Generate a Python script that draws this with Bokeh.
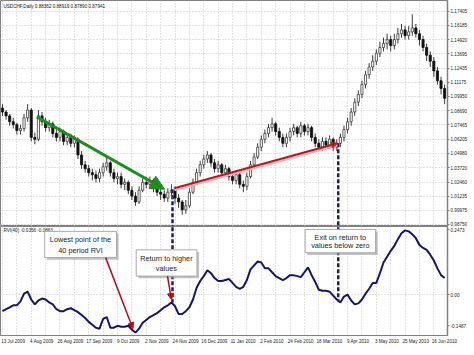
import numpy as np
import pandas as pd
from bokeh.plotting import figure
from bokeh.layouts import column
from bokeh.models import (Range1d, FixedTicker, CustomJSTickFormatter, NumeralTickFormatter,
                          Arrow, NormalHead)
from bokeh.core.properties import value
from bokeh.embed import file_html
from bokeh.resources import INLINE

# ---------------- data (2-day bars, USDCHF daily, Jul 2009 - Jun 2010) ----------------
open_ = [1.0893, 1.0859, 1.0825, 1.0774, 1.0748, 1.0697, 1.0714, 1.0808, 1.0876, 1.0637,
         1.0620, 1.0825, 1.0774, 1.0722, 1.0756, 1.0671, 1.0637, 1.0688, 1.0602, 1.0637,
         1.0585, 1.0620, 1.0483, 1.0397, 1.0363, 1.0328, 1.0311, 1.0277, 1.0328, 1.0380,
         1.0414, 1.0328, 1.0277, 1.0294, 1.0226, 1.0243, 1.0174, 1.0123, 1.0072, 1.0174,
         1.0243, 1.0226, 1.0260, 1.0191, 1.0157, 1.0140, 1.0106, 1.0157, 1.0174, 1.0106,
         1.0072, 1.0003, 1.0038, 1.0157, 1.0243, 1.0328, 1.0397, 1.0448, 1.0483, 1.0414,
         1.0363, 1.0397, 1.0328, 1.0363, 1.0294, 1.0260, 1.0311, 1.0226, 1.0209, 1.0294,
         1.0397, 1.0465, 1.0551, 1.0620, 1.0671, 1.0722, 1.0756, 1.0688, 1.0637, 1.0585,
         1.0637, 1.0688, 1.0722, 1.0671, 1.0739, 1.0688, 1.0722, 1.0637, 1.0585, 1.0551,
         1.0602, 1.0568, 1.0620, 1.0551, 1.0585, 1.0637, 1.0705, 1.0774, 1.0859, 1.0945,
         1.1013, 1.1099, 1.1185, 1.1253, 1.1304, 1.1373, 1.1424, 1.1458, 1.1493, 1.1441,
         1.1493, 1.1544, 1.1578, 1.1527, 1.1561, 1.1595, 1.1544, 1.1493, 1.1424, 1.1356,
         1.1304, 1.1219, 1.1133, 1.1065]
high = [1.0928, 1.0876, 1.0842, 1.0808, 1.0765, 1.0748, 1.0842, 1.0928, 1.0893, 1.0679,
        1.0876, 1.0859, 1.0808, 1.0791, 1.0774, 1.0705, 1.0722, 1.0705, 1.0671, 1.0671,
        1.0654, 1.0637, 1.0517, 1.0431, 1.0397, 1.0363, 1.0346, 1.0363, 1.0414, 1.0465,
        1.0431, 1.0363, 1.0328, 1.0328, 1.0277, 1.0260, 1.0209, 1.0157, 1.0209, 1.0277,
        1.0294, 1.0294, 1.0277, 1.0226, 1.0191, 1.0174, 1.0191, 1.0226, 1.0209, 1.0140,
        1.0089, 1.0089, 1.0191, 1.0277, 1.0363, 1.0431, 1.0483, 1.0517, 1.0500, 1.0448,
        1.0431, 1.0414, 1.0397, 1.0380, 1.0328, 1.0346, 1.0328, 1.0260, 1.0328, 1.0431,
        1.0500, 1.0585, 1.0654, 1.0705, 1.0756, 1.0808, 1.0774, 1.0722, 1.0671, 1.0671,
        1.0722, 1.0756, 1.0739, 1.0774, 1.0756, 1.0756, 1.0739, 1.0671, 1.0620, 1.0637,
        1.0637, 1.0654, 1.0637, 1.0620, 1.0671, 1.0739, 1.0808, 1.0893, 1.0979, 1.1048,
        1.1133, 1.1219, 1.1287, 1.1356, 1.1407, 1.1475, 1.1510, 1.1544, 1.1527, 1.1544,
        1.1595, 1.1630, 1.1612, 1.1612, 1.1715, 1.1630, 1.1578, 1.1527, 1.1458, 1.1390,
        1.1339, 1.1253, 1.1167, 1.1099]
low = [1.0825, 1.0791, 1.0739, 1.0714, 1.0662, 1.0662, 1.0688, 1.0774, 1.0602, 1.0577,
       1.0602, 1.0739, 1.0688, 1.0688, 1.0637, 1.0602, 1.0602, 1.0568, 1.0568, 1.0551,
       1.0551, 1.0448, 1.0363, 1.0328, 1.0294, 1.0260, 1.0243, 1.0243, 1.0294, 1.0346,
       1.0294, 1.0243, 1.0226, 1.0191, 1.0174, 1.0140, 1.0089, 1.0038, 1.0055, 1.0157,
       1.0191, 1.0191, 1.0157, 1.0123, 1.0089, 1.0072, 1.0072, 1.0123, 1.0055, 1.0020,
       0.9960, 0.9969, 1.0020, 1.0140, 1.0226, 1.0294, 1.0363, 1.0414, 1.0380, 1.0328,
       1.0328, 1.0294, 1.0294, 1.0260, 1.0226, 1.0226, 1.0191, 1.0157, 1.0174, 1.0277,
       1.0380, 1.0448, 1.0517, 1.0585, 1.0637, 1.0688, 1.0654, 1.0602, 1.0551, 1.0551,
       1.0602, 1.0654, 1.0637, 1.0637, 1.0654, 1.0654, 1.0602, 1.0551, 1.0517, 1.0517,
       1.0534, 1.0534, 1.0517, 1.0517, 1.0551, 1.0602, 1.0671, 1.0739, 1.0825, 1.0910,
       1.0979, 1.1065, 1.1150, 1.1219, 1.1270, 1.1339, 1.1390, 1.1407, 1.1390, 1.1407,
       1.1458, 1.1510, 1.1493, 1.1493, 1.1527, 1.1510, 1.1441, 1.1390, 1.1304, 1.1253,
       1.1167, 1.1099, 1.1013, 1.0928]
close = [1.0859, 1.0825, 1.0774, 1.0748, 1.0697, 1.0714, 1.0808, 1.0876, 1.0637, 1.0620,
         1.0825, 1.0774, 1.0722, 1.0756, 1.0671, 1.0637, 1.0688, 1.0602, 1.0637, 1.0585,
         1.0620, 1.0483, 1.0397, 1.0363, 1.0328, 1.0311, 1.0277, 1.0328, 1.0380, 1.0414,
         1.0328, 1.0277, 1.0294, 1.0226, 1.0243, 1.0174, 1.0123, 1.0072, 1.0174, 1.0243,
         1.0226, 1.0260, 1.0191, 1.0157, 1.0140, 1.0106, 1.0157, 1.0174, 1.0106, 1.0072,
         1.0003, 1.0038, 1.0157, 1.0243, 1.0328, 1.0397, 1.0448, 1.0483, 1.0414, 1.0363,
         1.0397, 1.0328, 1.0363, 1.0294, 1.0260, 1.0311, 1.0226, 1.0209, 1.0294, 1.0397,
         1.0465, 1.0551, 1.0620, 1.0671, 1.0722, 1.0756, 1.0688, 1.0637, 1.0585, 1.0637,
         1.0688, 1.0722, 1.0671, 1.0739, 1.0688, 1.0722, 1.0637, 1.0585, 1.0551, 1.0602,
         1.0568, 1.0620, 1.0551, 1.0585, 1.0637, 1.0705, 1.0774, 1.0859, 1.0945, 1.1013,
         1.1099, 1.1185, 1.1253, 1.1304, 1.1373, 1.1424, 1.1458, 1.1493, 1.1441, 1.1493,
         1.1544, 1.1578, 1.1527, 1.1561, 1.1595, 1.1544, 1.1493, 1.1424, 1.1356, 1.1304,
         1.1219, 1.1133, 1.1065, 1.0979]
rvi = [-0.0596, -0.0525, -0.0453, -0.0382, -0.0382, -0.0239, 0.0046, 0.0118, -0.0168, -0.0346,
       -0.0203, -0.0132, -0.0168, -0.0275, -0.0346, -0.0525, -0.0596, -0.0596, -0.0525, -0.0489,
       -0.0560, -0.0632, -0.0739, -0.0846, -0.0989, -0.1095, -0.1202, -0.1238, -0.0881, -0.0810,
       -0.1202, -0.1202, -0.1131, -0.1167, -0.1167, -0.1131, -0.1274, -0.1381, -0.1238, -0.1024,
       -0.0917, -0.0810, -0.0739, -0.0667, -0.0560, -0.0453, -0.0382, -0.0275, -0.0417, -0.0703,
       -0.0703, -0.0596, -0.0453, -0.0168, 0.0260, 0.0510, 0.0689, 0.0903, 0.0796, 0.0617,
       0.0510, 0.0510, 0.0546, 0.0582, 0.0439, 0.0296, 0.0225, 0.0296, 0.0546, 0.0938,
       0.1081, 0.1224, 0.1188, 0.0974, 0.0974, 0.0831, 0.0689, 0.0617, 0.0546, 0.0617,
       0.0725, 0.0725, 0.0689, 0.0653, 0.0831, 0.1010, 0.0725, 0.0475, 0.0189, 0.0153,
       0.0153, 0.0118, -0.0025, -0.0168, -0.0275, -0.0061, 0.0011, -0.0203, -0.0346, -0.0310,
       -0.0168, 0.0046, 0.0225, 0.0439, 0.0439, 0.0796, 0.1188, 0.1402, 0.1616, 0.1795,
       0.2044, 0.2259, 0.2366, 0.2330, 0.2223, 0.2080, 0.1830, 0.1723, 0.1652, 0.1474,
       0.1260, 0.0974, 0.0725, 0.0617]
date_labels = ["13 Jul 2009", "4 Aug 2009", "26 Aug 2009", "17 Sep 2009", "9 Oct 2009",
               "2 Nov 2009", "24 Nov 2009", "16 Dec 2009", "11 Jan 2010", "2 Feb 2010",
               "24 Feb 2010", "18 Mar 2010", "9 Apr 2010", "3 May 2010", "25 May 2010",
               "16 Jun 2010"]
price_ticks = [1.17405, 1.16185, 1.14920, 1.13695, 1.12435, 1.11175, 1.09950, 1.08690,
               1.07465, 1.06205, 1.04980, 1.03720, 1.02460, 1.01235, 0.99975, 0.98750]
header_text = "USDCHF,Daily  0.88362 0.88919 0.87890 0.87941"
rvi_text = "RVI(40) -0.0356 -0.0863"
notes = ["Lowest point of the", "40 period RVI", "Return to higher", "values",
         "Exit on return to", "values below zero"]

# ---------------- figures ----------------
FONT = value("Liberation Sans")
GRID = "#c4c4c4"
AXC = "#808080"

xr = Range1d(-0.55, 123.8)
p1 = figure(frame_width=447, frame_height=226, x_range=xr, y_range=Range1d(0.9857, 1.1835),
            y_axis_location="right", x_axis_location=None, toolbar_location=None,
            output_backend="svg", min_border=0, min_border_top=0, min_border_left=0,
            background_fill_color="white", border_fill_color="white")
p2 = figure(frame_width=447, frame_height=109, x_range=xr, y_range=Range1d(-0.1488, 0.2508),
            y_axis_location="right", toolbar_location=None, output_backend="svg",
            min_border=0, min_border_left=0, min_border_bottom=1,
            background_fill_color="white", border_fill_color="white")

for p in (p1, p2):
    p.outline_line_color = AXC
    p.outline_line_width = 1
    for ax in p.yaxis:
        ax.axis_line_color = AXC
        ax.axis_line_width = 1.5
        ax.major_tick_in = 0
        ax.major_tick_out = 2
        ax.major_tick_line_color = AXC
        ax.minor_tick_line_color = None
        ax.major_label_text_font = "Liberation Sans"
        ax.major_label_text_font_size = "4.6px"
        ax.major_label_text_color = "#222222"
        ax.major_label_standoff = 1
    p.xgrid.ticker = FixedTicker(ticks=list(range(0, 124, 4)))
    for g in (p.xgrid, p.ygrid):
        g.grid_line_color = GRID
        g.grid_line_dash = "1 2"
        g.grid_line_width = 1

p1.yaxis.ticker = FixedTicker(ticks=price_ticks)
p1.yaxis.formatter = NumeralTickFormatter(format="0.00000")
p1.ygrid.ticker = FixedTicker(ticks=price_ticks)

p2.yaxis.ticker = FixedTicker(ticks=[0.2383, 0.0, -0.1131])
p2.yaxis.formatter = CustomJSTickFormatter(
    code="if (tick > 0.1) return '0.2473'; if (tick < -0.05) return '-0.1487'; return '0.00';")
p2.ygrid.ticker = FixedTicker(ticks=[0.0])

xa = p2.xaxis[0]
xa.ticker = FixedTicker(ticks=[8 * k + 2.95 for k in range(len(date_labels))])
xa.formatter = CustomJSTickFormatter(args=dict(labels=date_labels),
                                     code="return labels[Math.round((tick - 2.95) / 8)] || '';")
xa.major_tick_out = 0
xa.major_tick_in = 0
xa.minor_tick_line_color = None
xa.axis_line_color = AXC
xa.major_label_text_font = "Liberation Sans"
xa.major_label_text_font_size = "4.6px"
xa.major_label_text_color = "#222222"
xa.major_label_standoff = 3

# ---------------- candles ----------------
df = pd.DataFrame(dict(x=np.arange(len(close)), o=open_, h=high, l=low, c=close))
df["top"] = df[["o", "c"]].max(axis=1)
df["bot"] = df[["o", "c"]].min(axis=1)
up = df[df.c >= df.o]
dn = df[df.c < df.o]
p1.segment(x0="x", y0="l", x1="x", y1="h", source=df, line_color="#3a3a3a", line_width=1)
p1.vbar(x="x", width=0.6, top="top", bottom="bot", source=up, fill_color="white",
        line_color="#3a3a3a", line_width=0.8)
p1.vbar(x="x", width=0.6, top="top", bottom="bot", source=dn, fill_color="#111111",
        line_color="#111111", line_width=0.8)

p1.text(x=[0.27], y=[1.1784], text=[header_text], text_font=FONT, text_font_size=value("4.6px"),
        text_baseline="middle", text_align="left", text_color="#111111")

# annotations on price pane
NAVY = "#1c1c6a"
p1.segment(x0=[47.3, 93.4], y0=[1.0183, 1.0585], x1=[47.3, 93.4], y1=[0.98, 0.98],
           line_color=NAVY, line_width=2.5, line_dash="4 2")
p1.segment(x0=[47.8], y0=[1.0174], x1=[93.2], y1=[1.0568], line_color="#d8b8b8", line_width=2)
p1.add_layout(Arrow(end=NormalHead(size=6, fill_color="#c0141c", line_color="#c0141c"),
                    x_start=47.8, y_start=1.0191, x_end=93.2, y_end=1.0585,
                    line_color="#c0141c", line_width=2))
p1.add_layout(Arrow(end=NormalHead(size=14, fill_color="#1f8c1f", line_color="#1f8c1f"),
                    x_start=9.56, y_start=1.0816, x_end=45.1, y_end=1.0183,
                    line_color="#1f8c1f", line_width=3))

# ---------------- RVI pane ----------------
p2.segment(x0=[47.3, 93.4], y0=[0.27, 0.27], x1=[47.3, 93.4], y1=[-0.0275, -0.0239],
           line_color=NAVY, line_width=2.5, line_dash="4 2")
p2.line(x=np.arange(len(rvi)), y=rvi, line_color="#14146e", line_width=2)
p2.text(x=[0.27], y=[0.2366], text=[rvi_text], text_font=FONT, text_font_size=value("4.6px"),
        text_baseline="middle", text_align="left", text_color="#111111")

box_l = [11.75, 37.2, 84.2]
box_r = [31.7, 54.1, 103.8]
box_t = [0.2330, 0.1652, 0.2401]
box_b = [0.1367, 0.0689, 0.1545]
p2.quad(left=[v + 0.6 for v in box_l], right=[v + 0.6 for v in box_r],
        top=[v - 0.008 for v in box_t], bottom=[v - 0.008 for v in box_b],
        fill_color="#9a9a9a", fill_alpha=0.6, line_color=None)
p2.quad(left=box_l, right=box_r, top=box_t, bottom=box_b, fill_color="white",
        line_color="#a8a8a8", line_width=1)
p2.text(x=[21.7, 21.7, 45.6, 45.6, 94.0, 94.0],
        y=[0.2027, 0.1634, 0.1331, 0.0974, 0.2116, 0.1795],
        text=notes, text_font=FONT, text_font_size=value("7.3px"), text_align="center",
        text_baseline="middle", text_color="#222222")

RED = "#b01018"
p2.add_layout(Arrow(end=NormalHead(size=6, fill_color=RED, line_color=RED),
                    x_start=28.7, y_start=0.1367, x_end=36.3, y_end=-0.1238,
                    line_color=RED, line_width=1.5))
p2.add_layout(Arrow(end=NormalHead(size=6, fill_color=RED, line_color=RED),
                    x_start=45.9, y_start=0.0689, x_end=47.0, y_end=-0.0168,
                    line_color=RED, line_width=1.5))

layout = column(p1, p2, spacing=0)
open("out.html", "w").write(file_html(layout, INLINE))
